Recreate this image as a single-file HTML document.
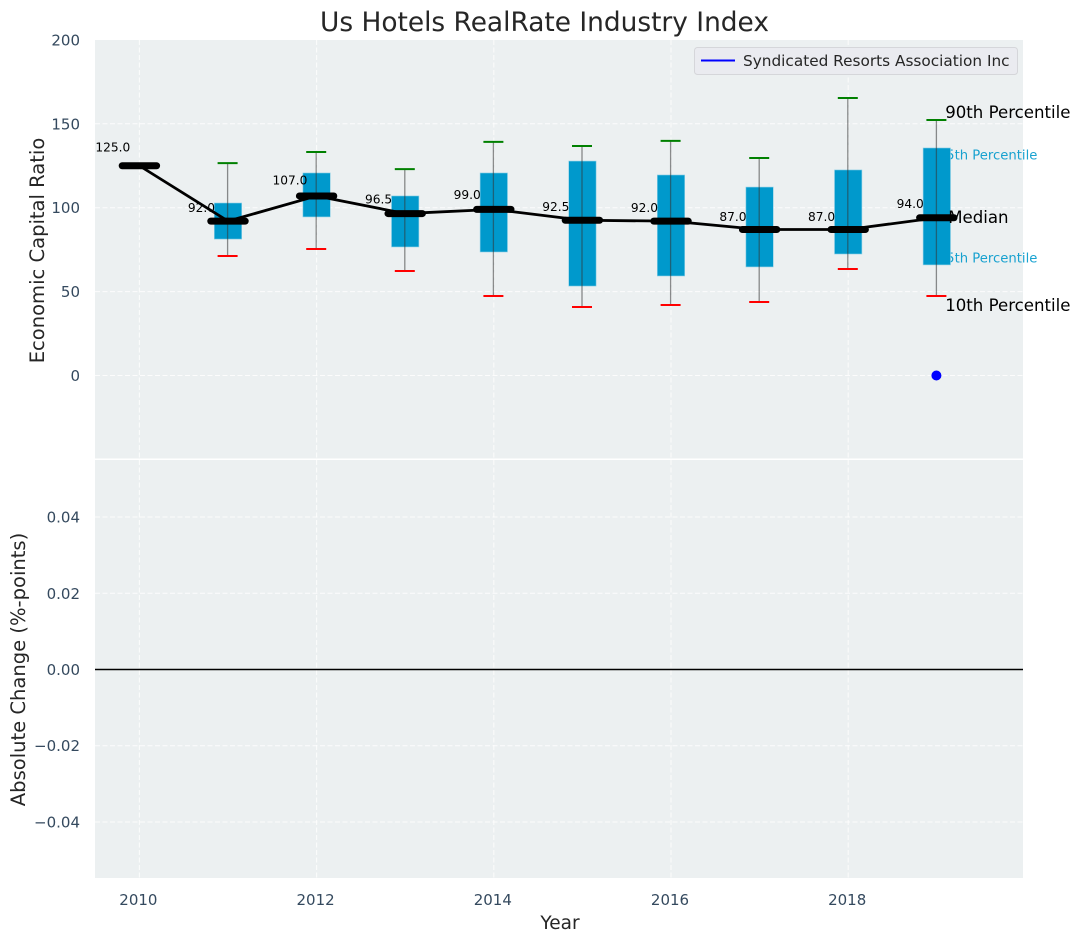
<!DOCTYPE html>
<html lang="en">
<head>
<meta charset="utf-8">
<title>Us Hotels RealRate Industry Index</title>
<style>
html,body{margin:0;padding:0;background:#fff;width:1080px;height:942px;overflow:hidden}
svg{display:block}
text{font-family:"DejaVu Sans","Liberation Sans",sans-serif}
</style>
</head>
<body>
<svg id="chart" width="1080" height="942" viewBox="0 0 1080 942" xmlns="http://www.w3.org/2000/svg">
  <rect width="1080" height="942" fill="#ffffff"/>
  <rect x="95" y="40" width="928" height="418.5" fill="#ecf0f1"/>
  <rect x="95" y="460" width="928" height="418" fill="#ecf0f1"/>
  <g id="grid"></g>
  <g id="ticks"></g>
  <g id="annotations-behind"></g>
  <g id="marks"></g>
  <g id="annotations-front"></g>
  <text x="544.5" y="31" font-size="26.4" text-anchor="middle" fill="#262626">Us Hotels RealRate Industry Index</text>
  <text transform="translate(44,250.5) rotate(-90)" font-size="19.55" text-anchor="middle" fill="#262626">Economic Capital Ratio</text>
  <text transform="translate(25,669.5) rotate(-90)" font-size="19.55" text-anchor="middle" fill="#262626">Absolute Change (%-points)</text>
  <text x="560" y="929" font-size="18.5" text-anchor="middle" fill="#262626">Year</text>
  <g>
    <rect x="694.5" y="47.5" width="323" height="27" rx="3" fill="#eaebf0" stroke="#d5d6da" stroke-width="1"/>
    <line x1="701" y1="60.5" x2="735" y2="60.5" stroke="#0000ff" stroke-width="2"/>
    <text x="743" y="66" font-size="15.3" fill="#262626">Syndicated Resorts Association Inc</text>
  </g>
</svg>
<script>
const years = [2010, 2011, 2012, 2013, 2014, 2015, 2016, 2017, 2018, 2019];
const medians = [125, 92, 107, 96.5, 99, 92.5, 92, 87, 87, 94];
const p90 = [null, 126.6, 133.2, 123, 139.2, 136.8, 139.8, 129.6, 165.4, 152.3];
const p75 = [null, 102.8, 120.7, 107, 120.7, 127.8, 119.5, 112.3, 122.5, 135.6];
const p25 = [null, 81.3, 94.5, 76.6, 73.6, 53.3, 59.3, 64.7, 72.4, 65.9];
const p10 = [null, 71.2, 75.4, 62.3, 47.4, 40.8, 42, 43.8, 63.5, 47.4];
const scatterYears = [2019];
const scatterValues = [0];
const xTicks = [2010, 2012, 2014, 2016, 2018];
const topYTicks = [0, 50, 100, 150, 200];
const bottomYTicks = [-0.04, -0.02, 0, 0.02, 0.04];

const NS = 'http://www.w3.org/2000/svg';
const xScale = y => 139.4 + (y - 2010) * 88.6;
const yTop = v => 375.5 - v * 1.678;
const yBottom = v => 669.5 - v * 3811;
const gridG = document.getElementById('grid');
const tickG = document.getElementById('ticks');
const behindG = document.getElementById('annotations-behind');
const marksG = document.getElementById('marks');
const frontG = document.getElementById('annotations-front');

function make(parent, tag, attrs, txt) {
  const el = document.createElementNS(NS, tag);
  for (const k in attrs) el.setAttribute(k, attrs[k]);
  if (txt !== undefined) el.textContent = txt;
  parent.appendChild(el);
  return el;
}
function gridLine(x1, y1, x2, y2) {
  const el = make(gridG, 'line', {x1, y1, x2, y2, stroke: '#ffffff', 'stroke-width': 1, 'stroke-dasharray': '5 2.5', opacity: 0.85});
  
  
}

xTicks.forEach(t => {
  gridLine(xScale(t), 40, xScale(t), 458.5);
  gridLine(xScale(t), 460, xScale(t), 878);
  const label = make(tickG, 'text', {x: xScale(t) - 1, y: 905, 'font-size': 15, 'text-anchor': 'middle', fill: '#34495e'}, String(t));
  
  
});
topYTicks.forEach(t => {
  if (t < 200) gridLine(95, yTop(t), 1023, yTop(t));
  const label = make(tickG, 'text', {x: 80, y: yTop(t) + 5.5, 'font-size': 15, 'text-anchor': 'end', fill: '#34495e'}, String(t));
  
  
});
bottomYTicks.forEach(t => {
  gridLine(95, yBottom(t), 1023, yBottom(t));
  const txt = (t < 0 ? '\u2212' : '') + Math.abs(t).toFixed(2);
  const label = make(tickG, 'text', {x: 80, y: yBottom(t) + 5.5, 'font-size': 15, 'text-anchor': 'end', fill: '#34495e'}, txt);
  
  
});
const zeroLine = make(marksG, 'line', {x1: 95, y1: yBottom(0), x2: 1023, y2: yBottom(0), stroke: '#000000', 'stroke-width': 1.4});



const last = years.length - 1;
const lastX = xScale(years[last]);
const q3Label = make(behindG, 'text', {x: lastX + 1, y: yTop(p75[last] - 4.2) + 4.5, 'font-size': 13.2, fill: '#0099cc', opacity: 0.9}, '75th Percentile');


const q1Label = make(behindG, 'text', {x: lastX + 1, y: yTop(p25[last] + 4) + 4.5, 'font-size': 13.2, fill: '#0099cc', opacity: 0.9}, '25th Percentile');



years.forEach((yr, i) => {
  if (p90[i] === null) return;
  const x = xScale(yr);
  const box = make(marksG, 'rect', {x: x - 13.7, y: yTop(p75[i]), width: 27.4, height: yTop(p25[i]) - yTop(p75[i]), fill: '#0099cc', stroke: '#8fd0e6', 'stroke-width': 0.6});
  
  
  const whisker = make(marksG, 'line', {x1: x - 0.4, y1: yTop(p90[i]), x2: x - 0.4, y2: yTop(p10[i]), stroke: '#333333', 'stroke-opacity': 0.55, 'stroke-width': 1.3});
  
  
  const capHi = make(marksG, 'line', {x1: x - 10.4, y1: yTop(p90[i]), x2: x + 9.6, y2: yTop(p90[i]), stroke: '#008000', 'stroke-width': 2});
  
  
  const capLo = make(marksG, 'line', {x1: x - 10.4, y1: yTop(p10[i]), x2: x + 9.6, y2: yTop(p10[i]), stroke: '#ff0000', 'stroke-width': 2});
  
  
});

const medianPath = make(marksG, 'polyline', {points: years.map((yr, i) => xScale(yr) + ',' + yTop(medians[i])).join(' '), fill: 'none', stroke: '#000000', 'stroke-width': 2.8, 'stroke-linejoin': 'round'});



years.forEach((yr, i) => {
  const x = xScale(yr);
  const bar = make(marksG, 'line', {x1: x - 17.2, y1: yTop(medians[i]), x2: x + 17.2, y2: yTop(medians[i]), stroke: '#000000', 'stroke-width': 7, 'stroke-linecap': 'round'});
  
  
  const val = make(marksG, 'text', {x: x - 26.6, y: yTop(medians[i] * 1.085) + 3.8, 'font-size': 12.2, 'text-anchor': 'middle', fill: '#000000'}, medians[i].toFixed(1));
  
  
});

scatterYears.forEach((yr, i) => {
  const dot = make(marksG, 'circle', {cx: xScale(yr) - 0.4, cy: yTop(scatterValues[i]), r: 5, fill: '#0000ff'});
  
  
});

const p90Label = make(frontG, 'text', {x: lastX + 8.4, y: yTop(p90[last] + 4.7) + 6, 'font-size': 16.6, fill: '#000000'}, '90th Percentile');


const medLabel = make(frontG, 'text', {x: lastX + 11.4, y: yTop(medians[last] + 0.4) + 6, 'font-size': 16.6, fill: '#000000'}, 'Median');


const p10Label = make(frontG, 'text', {x: lastX + 8.4, y: yTop(p10[last] - 5.4) + 6, 'font-size': 16.6, fill: '#000000'}, '10th Percentile');


</script>
</body>
</html>
